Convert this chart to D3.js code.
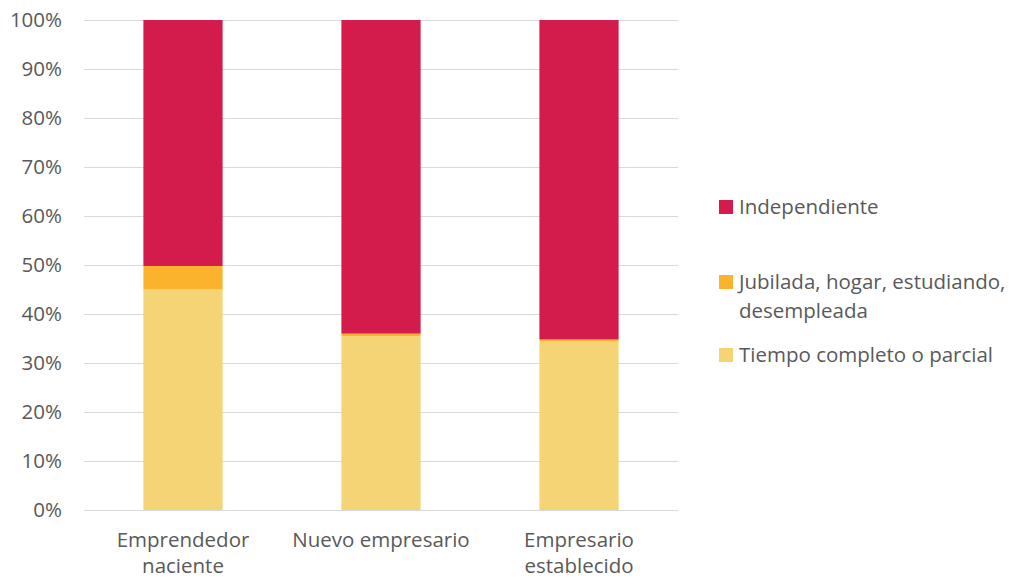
<!DOCTYPE html>
<html><head><meta charset="utf-8">
<script src="https://cdn.jsdelivr.net/npm/d3@7"></script>
<style>body{margin:0;background:#fff}svg{display:block}text{font-family:"Open Sans",sans-serif;fill:#595959}</style>
</head><body>
<script>
const categories = [["Emprendedor","naciente"],["Nuevo empresario"],["Empresario","establecido"]];
const seriesNames = ["Tiempo completo o parcial","Jubilada, hogar, estudiando, desempleada","Independiente"];
const tiempo = [45, 35.5, 34.5];
const jubilada = [4.8, 0.5, 0.3];
const independiente = [50.2, 64, 65.2];
const yTicks = [0,10,20,30,40,50,60,70,80,90,100];
const colors = ["#F5D475","#FBB32D","#D31C4B"];

const W=1016,H=580;
const FS=20.5;
const svg=d3.select("body").append("svg").attr("width",W).attr("height",H);
const x=d3.scaleBand().domain(d3.range(categories.length)).range([84,678]).paddingInner(0.6).paddingOuter(0.3);
const y=d3.scaleLinear().domain([0,100]).range([510,20]);

svg.append("g").selectAll("line").data(yTicks).join("line")
  .attr("x1",84).attr("x2",678).attr("y1",d=>y(d)+0.5).attr("y2",d=>y(d)+0.5)
  .attr("stroke","#d9d9d9").attr("stroke-width",1);
svg.append("g").selectAll("text").data(yTicks).join("text")
  .attr("x",62).attr("y",d=>y(d)).attr("dy","0.35em").attr("text-anchor","end")
  .attr("font-size",FS).text(d=>d+"%");

const data=categories.map((c,i)=>({i,v:[tiempo[i],jubilada[i],independiente[i]]}));
const stack=d3.stack().keys([0,1,2]).value((d,k)=>d.v[k]);
const layers=stack(data);
svg.append("g").selectAll("g").data(layers).join("g").attr("fill",(d,k)=>colors[k])
  .selectAll("rect").data(d=>d).join("rect")
  .attr("x",d=>x(d.data.i)).attr("width",x.bandwidth())
  .attr("y",d=>y(d[1])).attr("height",d=>y(d[0])-y(d[1]));

const xl=svg.append("g").selectAll("text").data(categories).join("text")
  .attr("x",(d,i)=>x(i)+x.bandwidth()/2).attr("y",547).attr("text-anchor","middle").attr("font-size",FS);
xl.each(function(d){const t=d3.select(this);d.forEach((s,j)=>t.append("tspan").attr("x",t.attr("x")).attr("dy",j?26:0).text(s));});

const legend=[{k:2,lines:["Independiente"],y:207},{k:1,lines:["Jubilada, hogar, estudiando,","desempleada"],y:282},{k:0,lines:["Tiempo completo o parcial"],y:355}];
const lg=svg.append("g");
legend.forEach(l=>{
  lg.append("rect").attr("x",719).attr("y",l.y-7).attr("width",14).attr("height",14).attr("fill",colors[l.k]);
  const t=lg.append("text").attr("x",739).attr("y",l.y).attr("font-size",FS);
  l.lines.forEach((s,j)=>t.append("tspan").attr("x",739).attr("dy",j?29:"0.35em").text(s));
});
</script>
</body></html>
